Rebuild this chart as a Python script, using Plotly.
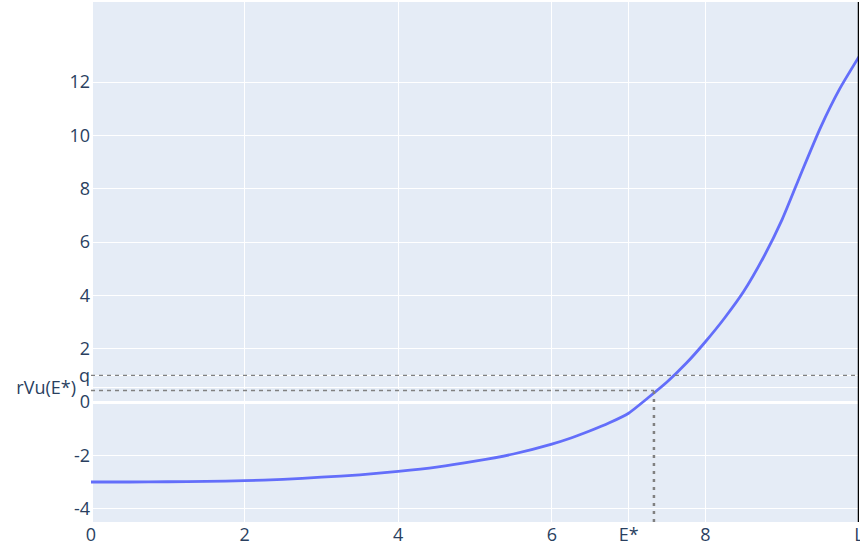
import plotly.graph_objects as go

# curve data
x_vals = [0, 0.5, 1, 1.5, 2, 2.5, 3, 3.5, 4, 4.5, 5, 5.5, 6, 6.25, 6.5, 6.75, 7, 7.25,
          7.5, 7.75, 8, 8.25, 8.5, 8.75, 9, 9.25, 9.5, 9.75, 10]
y_vals = [-3.00, -3.00, -2.99, -2.98, -2.95, -2.90, -2.82, -2.73, -2.60, -2.44, -2.22,
          -1.95, -1.58, -1.35, -1.08, -0.78, -0.42, 0.15, 0.75, 1.45, 2.26, 3.15, 4.15,
          5.39, 6.85, 8.6, 10.3, 11.75, 12.95]

# reference values
E_star_line = 7.33
rVu_line = 0.43
q_val = 1.0
L_val = 10
E_star_tick = 7.0
rVu_tick = 0.54

x_tickvals = [0, 2, 4, 6, 8, E_star_tick, L_val]
x_ticktext = ["0", "2", "4", "6", "8", "E*", "L"]
y_tickvals = [-4, -2, 0, 2, 4, 6, 8, 10, 12, q_val, rVu_tick]
y_ticktext = ["-4", "-2", "0", "2", "4", "6", "8", "10", "12", "q",
              "rVu(E*)\u00a0\u00a0\u00a0"]

x_range = [0, 10]
y_range = [-4.5, 15]

fig = go.Figure()
fig.add_trace(go.Scatter(x=x_vals, y=y_vals, mode="lines",
                         line=dict(color="#636efa", width=2.8, shape="spline", smoothing=0.6),
                         showlegend=False))

# dashed guide lines
fig.add_shape(type="line", x0=0, x1=L_val, y0=q_val, y1=q_val, xref="x", yref="y",
              line=dict(color="gray", width=1.4, dash="4px,4px"))
fig.add_shape(type="line", x0=0, x1=E_star_line, y0=rVu_line, y1=rVu_line, xref="x", yref="y",
              line=dict(color="gray", width=1.4, dash="4px,4px"))
fig.add_shape(type="line", x0=E_star_line, x1=E_star_line, y0=y_range[0], y1=rVu_line,
              xref="x", yref="y", line=dict(color="gray", width=2.5, dash="3px,5px"))
# vertical line at L
fig.add_shape(type="line", x0=L_val, x1=L_val, y0=0, y1=1, xref="x", yref="paper",
              line=dict(color="black", width=2.5))

fig.update_layout(
    template="plotly",
    width=860, height=548,
    margin=dict(l=91, r=1, t=2, b=26, autoexpand=False),
    font=dict(size=18),
    xaxis=dict(range=x_range, tickvals=x_tickvals, ticktext=x_ticktext, automargin=False,
               gridwidth=1.4, zerolinewidth=2.8, ticklabeloverflow="allow"),
    yaxis=dict(range=y_range, tickvals=y_tickvals, ticktext=y_ticktext, automargin=False,
               gridwidth=1.4, zerolinewidth=2.8),
)

fig.write_html("out.html", config={"displayModeBar": False},
               post_script="document.body.style.margin='0';document.body.style.overflow='hidden';")
